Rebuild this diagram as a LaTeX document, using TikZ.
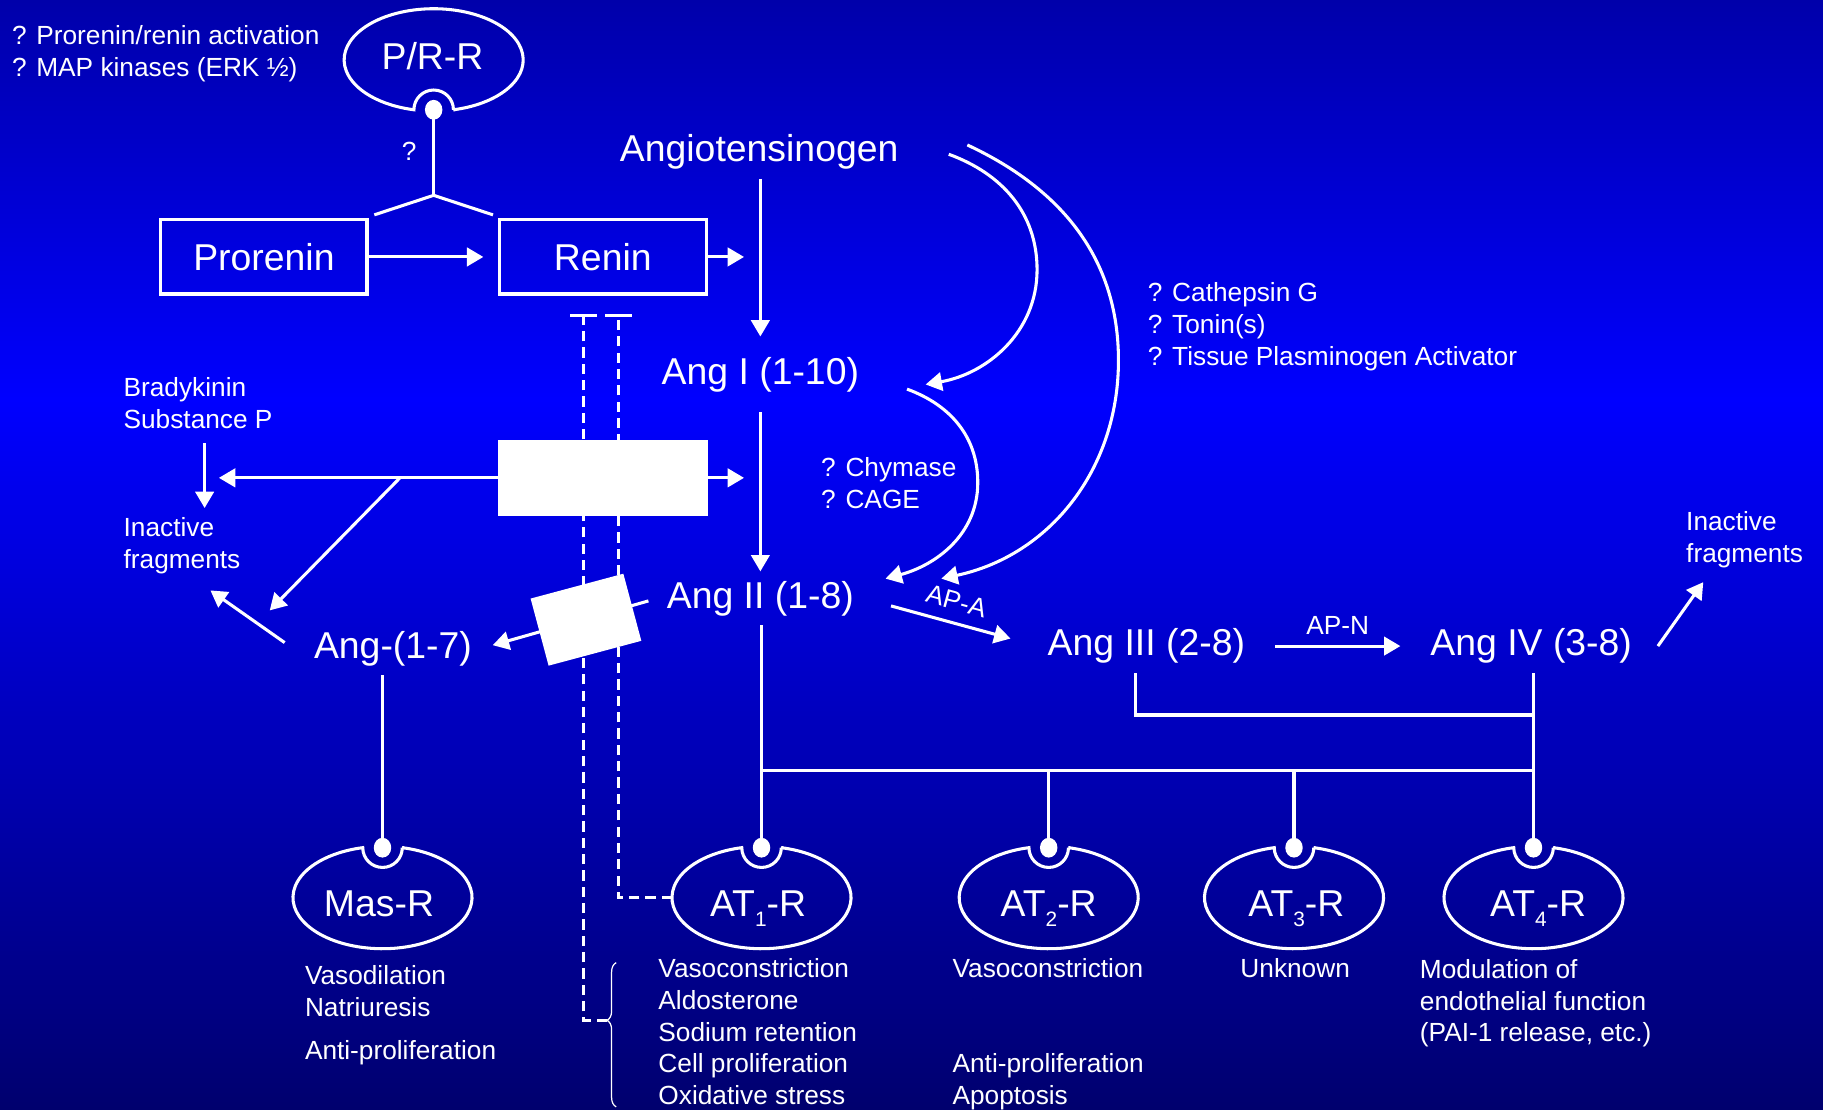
\documentclass[tikz,border=0pt]{standalone}
\usepackage{fontspec}
\setmainfont{Liberation Sans}
\usetikzlibrary{arrows.meta,decorations.pathreplacing}
\definecolor{bgtop}{RGB}{0,0,170}
\definecolor{bgmid}{RGB}{0,0,255}
\definecolor{bgbot}{RGB}{0,0,110}
\pgfdeclareverticalshading{slidebg}{100bp}{color(0bp)=(bgbot); color(25bp)=(bgbot); color(57bp)=(bgmid); color(75bp)=(bgtop); color(100bp)=(bgtop)}
\newcommand{\lowsub}[1]{\raisebox{-5pt}{\fontsize{10.2}{10.2}\selectfont #1}}
\tikzset{
  big/.style={text=white, font=\fontsize{18.3}{21}\selectfont, inner sep=4.5pt},
  txt/.style={text=white, font=\fontsize{12.85}{15.5}\selectfont, inner sep=0pt, align=left},
  box/.style={draw=white, line width=1.5pt, minimum height=36.3pt, text=white, font=\fontsize{18.3}{21}\selectfont},
  hole/.style={fill=white, inner sep=0pt},
  line/.style={draw=white, line width=1.5pt},
  arr/.style={line, -{Triangle[length=8pt,width=9pt]}},
  inhib/.style={draw=white, line width=1.3pt, dash pattern=on 5pt off 3pt, -{Bar[width=13pt]}},
  receptor/.pic={
    \coordinate (-dot) at (0,42.9);
    \coordinate (-west) at (-77,0);
    \draw[line] (77.25:77 and 44) arc[start angle=77.25, end angle=-257.25, x radius=77, y radius=44]
      arc[start angle=180, end angle=360, radius=17] -- cycle;
    \fill[white] (0,42.9) ellipse[x radius=7.5, y radius=8.5];
  }
}
\begin{document}
\begin{tikzpicture}[x=0.02cm, y=0.02cm]
\useasboundingbox (0,0) rectangle (1568,-954);
\shade[shading=slidebg] (0,0) rectangle (1568,-954);

\node[big, anchor=base] (angt) at (653,-139) {Angiotensinogen};
\node[big, anchor=base] (angi) at (654,-331) {Ang I (1-10)};
\node[big, anchor=base] (angii) at (654,-523) {Ang II (1-8)};
\node[big, anchor=base] (ang17) at (338,-566) {Ang-(1-7)};
\node[big, anchor=base] (angiii) at (986,-564) {Ang III (2-8)};
\node[big, anchor=base] (angiv) at (1317,-564) {Ang IV (3-8)};
\node[box, minimum width=100.9pt] (prorenin) at (227,-221) {Prorenin};
\node[box, minimum width=101.5pt] (renin) at (518.5,-221) {Renin};

\pic[yscale=-1] (prr) at (373,-51.5) {receptor};
\pic (masr) at (329,-772) {receptor};
\pic (at1) at (655,-772) {receptor};
\pic (at2) at (902,-772) {receptor};
\pic (at3) at (1113,-772) {receptor};
\pic (at4) at (1319,-772) {receptor};
\node[big, anchor=base] (prrtext) at (372,-60) {P/R-R};
\node[big, anchor=base] (masrtext) at (326,-788) {Mas-R};
\node[big, anchor=base] (at1text) at (652,-788) {AT\lowsub{1}-R};
\node[big, anchor=base] (at2text) at (902,-788) {AT\lowsub{2}-R};
\node[big, anchor=base] (at3text) at (1115,-788) {AT\lowsub{3}-R};
\node[big, anchor=base] (at4text) at (1323,-788) {AT\lowsub{4}-R};

\node[txt, anchor=base west] (prrfx) at (10,-65.4) {? Prorenin/renin activation\\? MAP kinases (ERK ½)};
\node[txt, anchor=base] (q) at (352,-138) {?};
\node[txt, anchor=base west] (brady) at (106,-368.4) {Bradykinin\\Substance P};
\node[txt, anchor=base west] (frag1) at (106,-488.8) {Inactive\\fragments};
\node[txt, anchor=base west] (frag2) at (1450,-483.7) {Inactive\\fragments};
\node[txt, anchor=base west] (cath) at (987,-314) {? Cathepsin G\\? Tonin(s)\\? Tissue Plasminogen Activator};
\node[txt, anchor=base west] (chym) at (706,-437) {? Chymase\\? CAGE};
\node[txt, anchor=base west] (masfx) at (262,-911.7) {Vasodilation\\Natriuresis\\[6pt]Anti-proliferation};
\node[txt, anchor=base west] (at1fx) at (566,-950) {Vasoconstriction\\Aldosterone\\Sodium retention\\Cell proliferation\\Oxidative stress};
\node[txt, anchor=base west] (at2fx) at (819,-950) {Vasoconstriction\\[31pt]Anti-proliferation\\Apoptosis};
\node[txt, anchor=base] (at3fx) at (1114,-841) {Unknown};
\node[txt, anchor=base west] (at4fx) at (1221,-896) {Modulation of\\endothelial function\\(PAI-1 release, etc.)};

\coordinate (bracetip) at (522,-878);
\draw[inhib, shorten >=9pt] (bracetip) -| ([xshift=-9.35pt]renin.south);
\draw[inhib, shorten >=9pt] (at1-west) -| ([xshift=7.65pt]renin.south);
\draw[white, line width=0.6pt, decorate, decoration={brace, amplitude=4.5pt, aspect=0.6}] (530,-952) -- (530,-828);

\coordinate (prrjoin) at (373,-168);
\draw[line] (prr-dot) -- (prrjoin);
\draw[line] ([shift={(5,3)}]prorenin.north east) -- (prrjoin) -- ([shift={(-4,3)}]renin.north west);
\draw[arr, shorten >=7pt] (prorenin) -- (renin);
\draw[arr, shorten >=8pt] (renin) -- (renin -| angi);
\draw[arr, shorten >=5.7pt] (angt.south -| angi) -- (angi);
\draw[arr, shorten <=5pt] (angi) -- (angii);

\draw[arr] ([shift={(35,-2)}]angt.east) to[out=-20,in=90] (892,-232) to[out=-90,in=10] ([shift={(49,-8)}]angi.east);
\draw[arr] ([shift={(51,6)}]angt.east) to[out=-25,in=90] (962,-310) to[out=-90,in=12] ([shift={(67,17)}]angii.east);
\draw[arr] ([shift={(33,-12)}]angi.east) to[out=-20,in=90] (841,-415) to[out=-90,in=15] ([shift={(19,17)}]angii.east);

\draw[arr, shorten <=14pt, shorten >=14pt] (angii.east) -- (angiii.west) node[midway, above, sloped, txt, inner sep=5.5pt] {AP-A};
\draw[arr, shorten <=10pt, shorten >=10pt] (angiii) -- (angiv) node[midway, above, txt, inner sep=5pt] {AP-N};
\draw[arr] ([xshift=8pt]angiv.east) -- ([shift={(15,-12)}]frag2.south west);
\draw[arr] ([shift={(-17,5)}]ang17.west) -- ([shift={(75,-14)}]frag1.south west);

\coordinate (kin) at (176,-411);
\draw[arr, shorten <=6.8pt, shorten >=4.5pt] (brady.south -| kin) -- (frag1.north -| kin);

\draw[line] (ang17.south -| masr-dot) -- (masr-dot);
\draw[line] (angii.south -| at1-dot) -- (at1-dot);
\coordinate (bus) at (655,-663);
\draw[line] (bus) -| (at2-dot);
\draw[line] (bus) -| (at3-dot);
\draw[line] (bus) -| (at4-dot);
\draw[line] (angiv.south -| at4-dot) -- (at4-dot);
\coordinate (iiijoin) at (1319,-615);
\draw[line] ([xshift=-5.1pt]angiii.south) |- (iiijoin);

\draw[arr, shorten <=4.5pt, shorten >=5.7pt] (angii.west) -- (ang17.east);
\node[hole, minimum width=47pt, minimum height=34pt, rotate=15] (ace2) at (504,-533) {};
\node[hole, minimum width=102.6pt, minimum height=37.4pt] (ace) at (518.5,-411) {};
\draw[arr, shorten >=7pt] (ace) -- (kin);
\draw[arr, shorten >=8pt] (ace) -- (ace -| angi);
\coordinate (fork) at (344,-411);
\coordinate (cut17) at (232,-525);
\draw[arr] (fork) -- (cut17);
\end{tikzpicture}
\end{document}
